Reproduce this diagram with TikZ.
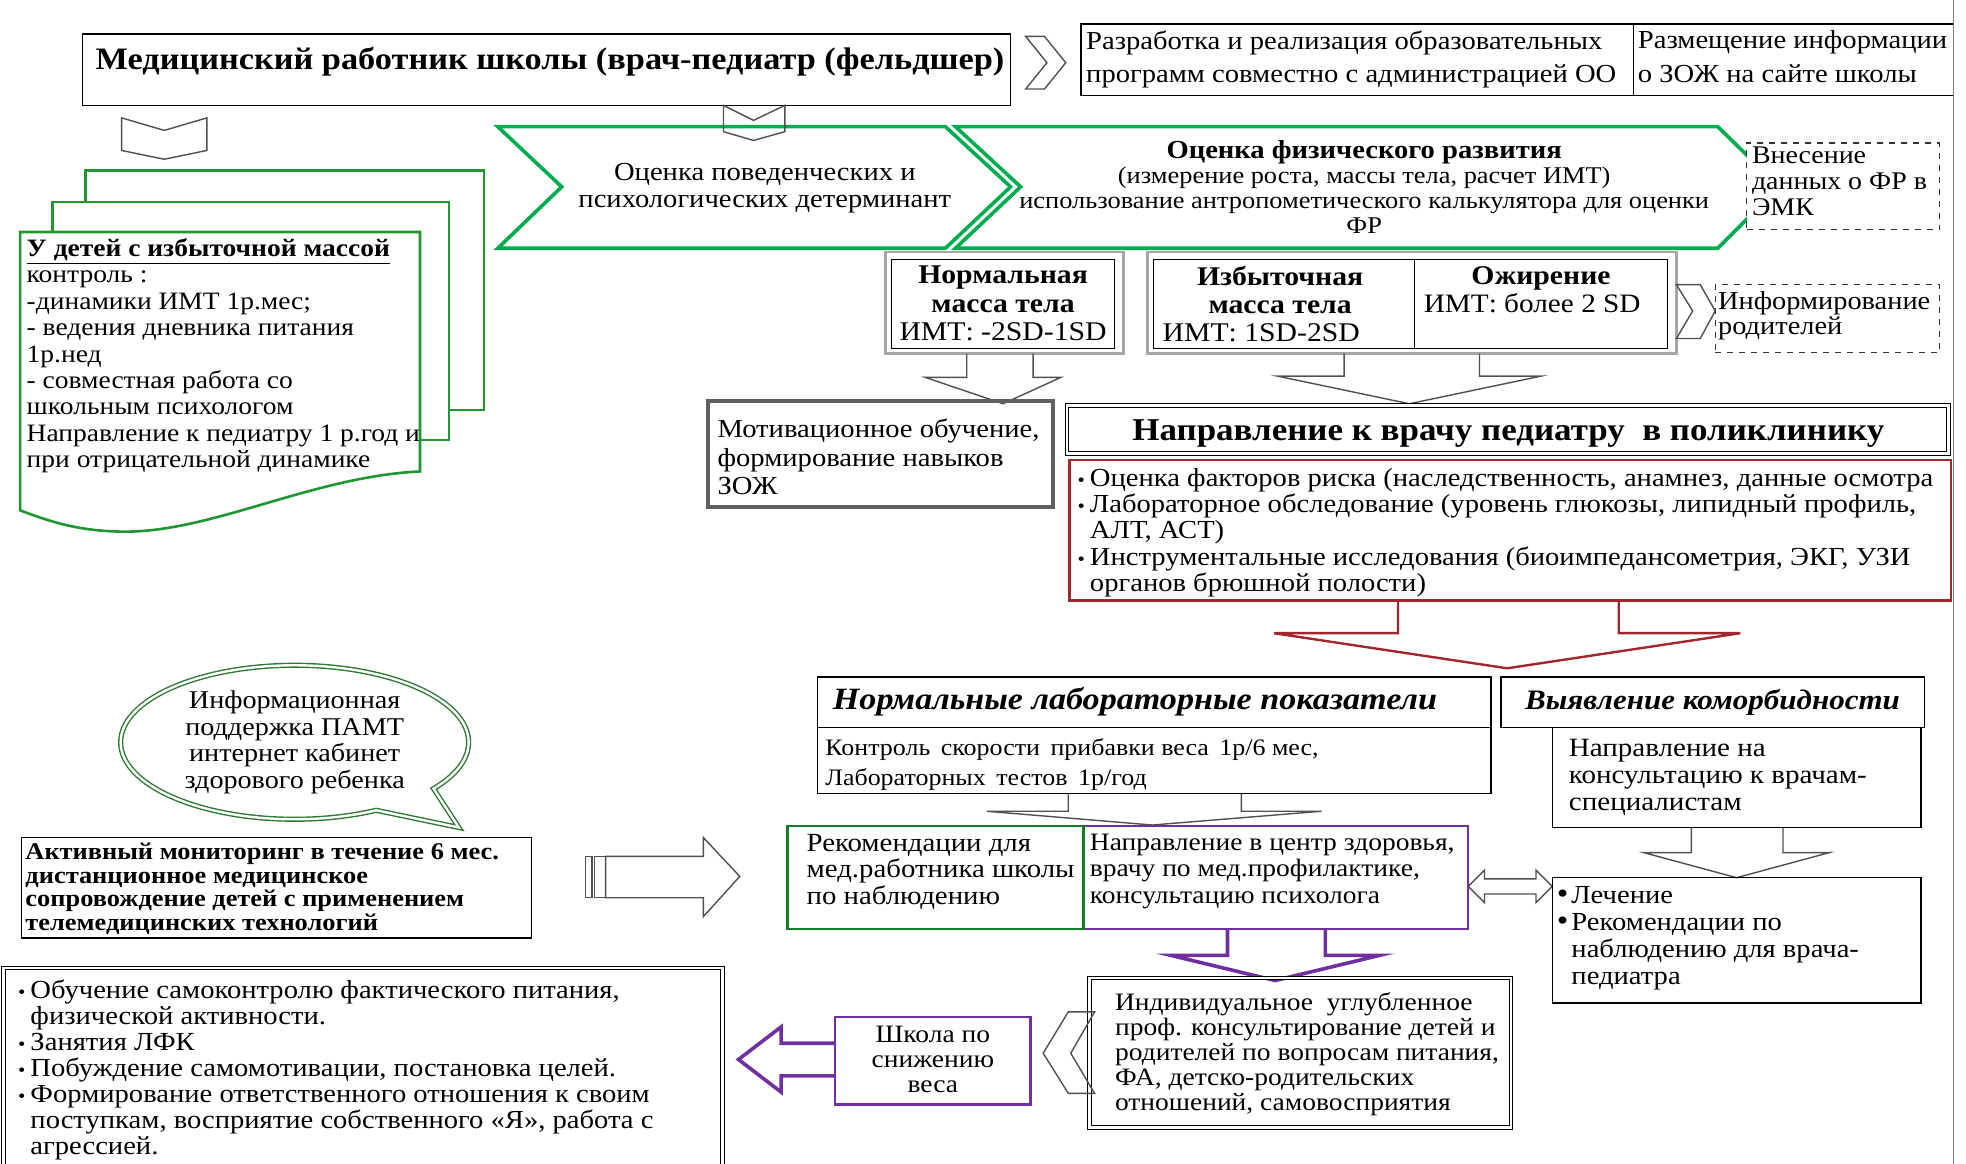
\documentclass[tikz,border=0pt]{standalone}
\usepackage{fontspec}
\setmainfont[FakeStretch=1.1]{Liberation Serif}
\usetikzlibrary{fit, shapes.callouts}

\definecolor{chevgreen}{RGB}{0,172,80}
\definecolor{docgreen}{RGB}{30,150,50}
\definecolor{boxgreen}{RGB}{20,125,40}
\definecolor{bubgreen}{RGB}{45,120,50}
\definecolor{darkred}{RGB}{160,40,45}
\definecolor{violet2}{RGB}{112,48,160}
\definecolor{arrgray}{RGB}{80,80,80}

\newcommand\fs[2]{\fontsize{#1}{#2}\selectfont}
\newcommand\bul{\llap{{\fs{9.5}{9}\textbullet}\hspace{2.5pt}}}
\newcommand\bigbul{\llap{{\fs{15}{13}\textbullet}\hspace{1.5pt}}}

\begin{document}
\begin{tikzpicture}[x=0.6269pt, y=-0.6269pt,
    box/.style={draw=black, line width=0.7pt, inner sep=0pt},
    dbox/.style={draw=black, line width=0.5pt, double, double distance=1.3pt, inner sep=0pt},
    shbox/.style={draw=gray!70, line width=1.4pt, inner sep=0pt},
    dashbox/.style={draw=black!80, dashed, line width=0.6pt, fill=white, inner sep=0pt},
    chev/.style={draw=chevgreen, line width=1.8pt, fill=white, line join=miter},
    garrow/.style={draw=arrgray, line width=0.7pt},
    txt/.style={inner sep=0pt, anchor=north west, align=left, font=\fs{12.5}{13.2}},
    ctxt/.style={inner sep=0pt, align=center}]

    \fill[white] (0,0) rectangle (1568,928);
    \useasboundingbox (0,0) rectangle (1568,928);

    % Верхняя строка: заголовок и мероприятия с администрацией
    \node[box, fit={(66,27) (806,84)}] (head) {};
    \node[anchor=west, inner sep=0pt, font=\bfseries\fs{15.6}{18}] (headt) at (76,49)
        {Медицинский работник школы (врач-педиатр (фельдшер)};
    \draw[garrow] (818,29) -- (833,29) -- (850,50) -- (833,71) -- (818,71) -- (835,50) -- cycle;
    \node[box, fit={(862,19) (1303,76)}] (prog) {};
    \node[box, fit={(1303,19) (1558,76)}] (site) {};
    \node[txt, font=\fs{13}{16.9}] (progt) at (866,24)
        {Разработка и реализация образовательных\\программ совместно с администрацией ОО};
    \node[txt, font=\fs{13}{16.9}] (sitet) at (1306,24)
        {Размещение информации\\о ЗОЖ на сайте школы};
    \draw[gray, line width=0.6pt] (1558,0) -- (1558,928);

    % Зеленые шевроны оценки
    \draw[garrow] (97,94) -- (131,104) -- (165,94) -- (165,120) -- (131,127) -- (97,120) -- cycle;
    \draw[chev] (397,101) -- (754,101) -- (806,149) -- (754,198) -- (397,198) -- (448,149) -- cycle;
    \draw[chev] (762,101) -- (1370,101) -- (1419,149) -- (1370,198) -- (762,198) -- (814,149) -- cycle;
    \draw[garrow] (577,84) -- (601,96) -- (626,84) -- (626,105) -- (601,112) -- (577,105) -- cycle;
    \node[ctxt, font=\fs{13}{13.8}] (behav) at (610,150)
        {Оценка поведенческих и\\психологических детерминант};
    \node[ctxt, font=\fs{12}{12.4}] (phys) at (1088,149)
        {{\bfseries\fs{13}{12.4}Оценка физического развития}\\(измерение роста, массы тела, расчет ИМТ)\\использование антропометического калькулятора для оценки\\ФР};
    \node[dashbox, fit={(1393,114) (1547,183)}] (emk) {};
    \node[txt, font=\fs{12.7}{12.9}] (emkt) at (1397,117) {Внесение\\данных о ФР в\\ЭМК};

    % Стопка листов слева
    \draw[docgreen, line width=1.3pt, fill=white] (68,136) rectangle (386,327);
    \draw[docgreen, line width=1.3pt, fill=white] (42,161) rectangle (358,351);
    \draw[docgreen, line width=1.3pt, fill=white] (16,185) -- (335,185) -- (335,376)
        .. controls (250,380) and (170,424) .. (100,424)
        .. controls (60,424) and (35,414) .. (16,407) -- cycle;
    \node[txt] (overw) at (21,190)
        {\textbf{\underline{У детей с избыточной массой}}\\контроль :\\-динамики ИМТ 1р.мес;\\- ведения дневника питания\\1р.нед\\- совместная работа со\\школьным психологом\\Направление к педиатру 1 р.год и\\при отрицательной динамике};

    % Группы по ИМТ
    \node[shbox, fit={(706,201) (896,282)}] (normo) {};
    \node[box, fit={(711,207) (889,278)}] (norm) {};
    \node[ctxt, font=\fs{13.5}{14.1}] (normt) at (800,242)
        {\textbf{Нормальная}\\\textbf{масса тела}\\ИМТ: -2SD-1SD};
    \node[shbox, fit={(915,201) (1337,282)}] (paro) {};
    \node[box, fit={(920,207) (1330,278)}] (pair) {};
    \draw[line width=0.7pt] (1128,207) -- (1128,278);
    \node[ctxt, font=\bfseries\fs{13.5}{14.1}] (overt) at (1021,231) {Избыточная\\масса тела};
    \node[anchor=west, inner sep=0pt, font=\fs{13.5}{14.1}] (overimt) at (927,265) {ИМТ: 1SD-2SD};
    \node[ctxt, font=\bfseries\fs{13.5}{14.1}] (obes) at (1229,222) {Ожирение};
    \node[ctxt, font=\fs{13.3}{14.1}] (obesimt) at (1222,242) {ИМТ: более 2 SD};
    \draw[garrow] (1337,227) -- (1356,227) -- (1368,248) -- (1356,270) -- (1337,270) -- (1350,248) -- cycle;
    \node[dashbox, fit={(1368,227) (1547,281)}] (inform) {};
    \node[txt, font=\fs{12.9}{12.5}] (informt) at (1370,232) {Информирование\\родителей};

    % Стрелки вниз
    \draw[garrow] (771,282) -- (771,301) -- (738,301) -- (800,322) -- (846,301) -- (824,301) -- (824,282);
    \draw[garrow] (1072,282) -- (1072,300) -- (1019,300) -- (1124,322) -- (1229,300) -- (1180,300) -- (1180,282);

    \node[draw=gray!75!black, line width=2pt, inner sep=0pt, fit={(565,320) (840,404)}] (motiv) {};
    \node[txt, font=\fs{13}{14.1}] (motivt) at (572,334)
        {Мотивационное обучение,\\формирование навыков\\ЗОЖ};
    \node[dbox, fit={(851,323.5) (1554,361.5)}] (refer) {};
    \node[inner sep=0pt, font=\bfseries\fs{15.9}{18}] (refert) at (1203,346)
        {Направление к врачу педиатру\ \ в поликлинику};

    % Обследование в поликлинике
    \node[draw=darkred, line width=1.2pt, inner sep=0pt, fit={(853,367) (1556,479)}] (risk) {};
    \node[txt, font=\fs{13}{13.2}] (riskt) at (869,373)
        {\bul Оценка факторов риска (наследственность, анамнез, данные осмотра\\
         \bul Лабораторное обследование (уровень глюкозы, липидный профиль,\\
         АЛТ, АСТ)\\
         \bul Инструментальные исследования (биоимпедансометрия, ЭКГ, УЗИ\\
         органов брюшной полости)};
    \draw[darkred, line width=1.2pt] (1115,479) -- (1115,505) -- (1016,505) -- (1202,533) -- (1388,505) -- (1291,505) -- (1291,479);

    % Результаты анализов
    \node[box, fit={(652,540) (1189,580)}] (labn) {};
    \node[anchor=west, inner sep=0pt, font=\bfseries\itshape\fs{15.5}{16}] (labnt) at (664,560)
        {Нормальные лабораторные показатели};
    \node[box, fit={(1197,540) (1535,580)}] (comorb) {};
    \node[anchor=west, inner sep=0pt, font=\bfseries\itshape\fs{14.1}{16}] (comorbt) at (1216,560)
        {Выявление коморбидности};
    \node[box, fit={(652,580) (1189,633)}] (ctrl) {};
    \node[txt, font=\fs{11.8}{15}] (ctrlt) at (658,589)
        {Контроль\hspace{2pt} скорости\hspace{2pt} прибавки веса\hspace{2pt} 1р/6 мес,\\Лабораторных\hspace{2pt} тестов\hspace{2pt} 1р/год};
    \node[box, fit={(1238,580) (1532,660)}] (spec) {};
    \node[txt, font=\fs{13.2}{13.5}] (spect) at (1251,589)
        {Направление на\\консультацию к врачам-\\специалистам};
    \draw[garrow] (852,633) -- (852,647) -- (787,647) -- (919,658) -- (1054,647) -- (990,647) -- (990,633);
    \draw[garrow] (1349,660) -- (1349,680) -- (1311,680) -- (1385,700) -- (1459,680) -- (1422,680) -- (1422,660);

    % Наблюдение и лечение
    \node[draw=violet2, line width=1.2pt, inner sep=0pt, fit={(864,659) (1171,741)}] (hcent) {};
    \node[draw=boxgreen, line width=1.2pt, inner sep=0pt, fit={(628,659) (864,741)}] (recom) {};
    \node[txt, font=\fs{13.1}{13.2}] (recomt) at (643,665)
        {Рекомендации для\\мед.работника школы\\по наблюдению};
    \node[txt] (hcentt) at (869,665)
        {Направление в центр здоровья,\\врачу по мед.профилактике,\\консультацию психолога};
    \draw[garrow] (1171,707) -- (1184,694) -- (1184,701) -- (1225,701) -- (1225,694) -- (1238,707)
        -- (1225,720) -- (1225,713) -- (1184,713) -- (1184,720) -- cycle;
    \node[box, fit={(1238,700) (1532,800)}] (treat) {};
    \node[txt, font=\fs{13}{13.4}] (treatt) at (1253,707)
        {\bigbul Лечение\\\bigbul Рекомендации по\\наблюдению для врача-\\педиатра};
    \draw[violet2, line width=1.8pt] (979,741) -- (979,762) -- (934,762) -- (1017,782) -- (1100,762) -- (1057,762) -- (1057,741);

    % Консультирование и школа по снижению веса
    \node[dbox, fit={(869,780) (1205,899)}] (indiv) {};
    \node[txt, font=\fs{12.5}{12.6}] (indivt) at (889,791)
        {Индивидуальное\ \ углубленное\\проф. консультирование детей и\\родителей по вопросам питания,\\ФА, детско-родительских\\отношений, самовосприятия};
    \draw[garrow] (832,840) -- (852,807) -- (873,807) -- (854,840) -- (873,872) -- (852,872) -- cycle;
    \node[draw=violet2, line width=1.2pt, inner sep=0pt, fit={(666,811) (822,881)}] (school) {};
    \node[ctxt, font=\fs{12.5}{12.6}] (schoolt) at (744,845) {Школа по\\снижению\\веса};
    \draw[violet2, line width=1.8pt] (666,832) -- (623,832) -- (623,819) -- (589,845) -- (623,871) -- (623,858) -- (666,858);
    \node[dbox, fit={(3,772) (576,932)}] (selfc) {};
    \node[txt, font=\fs{13}{13.05}] (selfct) at (24,781)
        {\bul Обучение самоконтролю фактического питания,\\физической активности.\\
         \bul Занятия ЛФК\\
         \bul Побуждение самомотивации, постановка целей.\\
         \bul Формирование ответственного отношения к своим\\поступкам, восприятие собственного «Я», работа с\\агрессией.};

    % Дистанционное сопровождение
    \node[ellipse callout, draw=bubgreen, double, line width=0.7pt, double distance=1.2pt,
        minimum width=174pt, minimum height=77pt, callout absolute pointer={(366,660)},
        callout pointer arc=25, align=center, inner sep=0pt, font=\fs{12.8}{13.2}] (bubble) at (235,592)
        {Информационная\\поддержка ПАМТ\\интернет кабинет\\здорового ребенка};
    \node[box, fit={(17,668) (424,748)}] (monit) {};
    \node[txt, font=\bfseries\fs{12}{11.8}] (monitt) at (20,672)
        {Активный мониторинг в течение 6 мес.\\дистанционное медицинское\\сопровождение детей с применением\\телемедицинских технологий};
    \draw[garrow] (467,683) rectangle (472,716);
    \draw[garrow] (474,683) rectangle (483,716);
    \draw[garrow] (483,683) -- (561,683) -- (561,668) -- (590,699) -- (561,731) -- (561,716) -- (483,716) -- cycle;
\end{tikzpicture}
\end{document}
